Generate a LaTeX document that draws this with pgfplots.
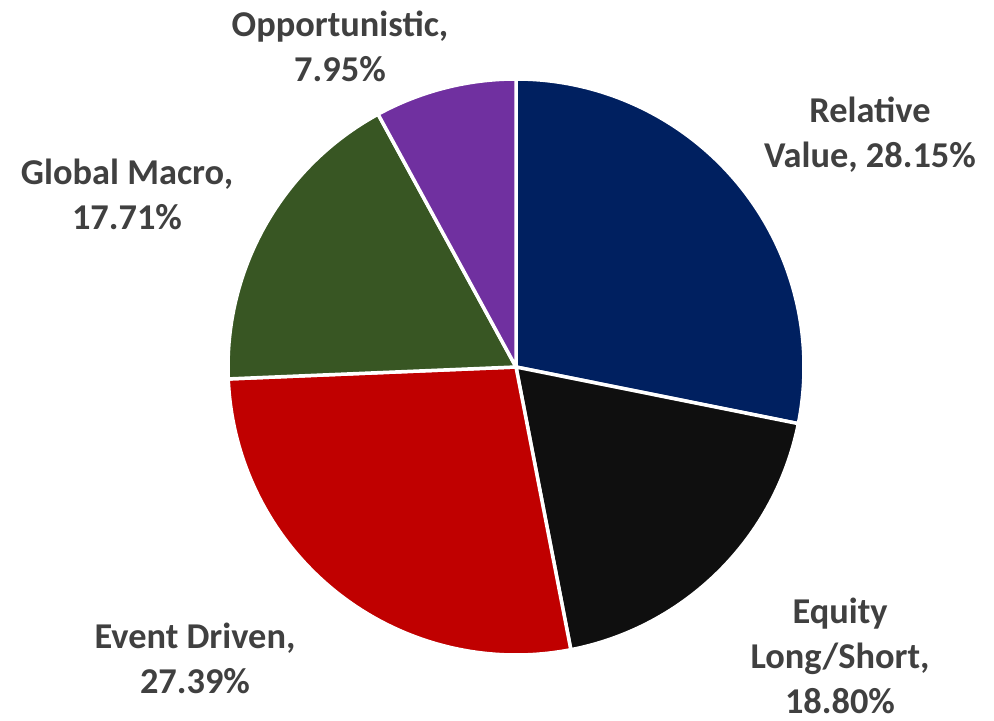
\documentclass[border=0pt]{standalone}
\usepackage{pgfplots}
\pgfplotsset{compat=1.18}
\usepackage{pgfplotstable}
\usepackage{fontspec}
\setmainfont{Carlito}
\definecolor{cRV}{HTML}{002060}
\definecolor{cEQ}{HTML}{0F0F0F}
\definecolor{cED}{HTML}{C00000}
\definecolor{cGM}{HTML}{385623}
\definecolor{cOP}{HTML}{7030A0}
\definecolor{lbl}{HTML}{404040}
\pgfplotstableread{
name value color
RV 28.15 cRV
EQ 18.80 cEQ
ED 27.39 cED
GM 17.71 cGM
OP 7.95 cOP
}\piedata
\begin{document}
\begin{tikzpicture}
\begin{axis}[scale only axis, width=994bp, height=721bp,
  xmin=0, xmax=994, ymin=0, ymax=721, enlargelimits=false,
  hide axis, clip=false, anchor=south west, at={(0,0)}]
\def\start{90}
\pgfplotsforeachungrouped \i in {0,...,4}{%
  \pgfplotstablegetelem{\i}{value}\of{\piedata}\let\v\pgfplotsretval
  \pgfplotstablegetelem{\i}{color}\of{\piedata}\let\c\pgfplotsretval
  \pgfmathsetmacro{\stop}{\start-3.6*\v}%
  \edef\cmd{\noexpand\filldraw[fill=\c, draw=white, line width=3.5bp, line join=round] (axis cs:516,354) -- ++(\start:288bp) arc[start angle=\start, end angle=\stop, radius=288bp] -- cycle;}%
  \cmd
  \global\let\start\stop
}
\begin{scope}[every node/.style={font=\fontsize{36.5}{45}\selectfont\bfseries, text=lbl, align=center, inner sep=0pt}]
\node at (axis cs:340,675) {Opportunistic,\\7.95\%};
\node at (axis cs:870,586) {Relative\\Value, 28.15\%};
\node at (axis cs:127,527) {Global Macro,\\17.71\%};
\node at (axis cs:195,63) {Event Driven,\\27.39\%};
\node at (axis cs:840,65) {Equity\\Long/Short,\\18.80\%};
\end{scope}
\end{axis}
\pgfresetboundingbox
\useasboundingbox (0,0) rectangle (994bp,721bp);
\end{tikzpicture}
\end{document}
